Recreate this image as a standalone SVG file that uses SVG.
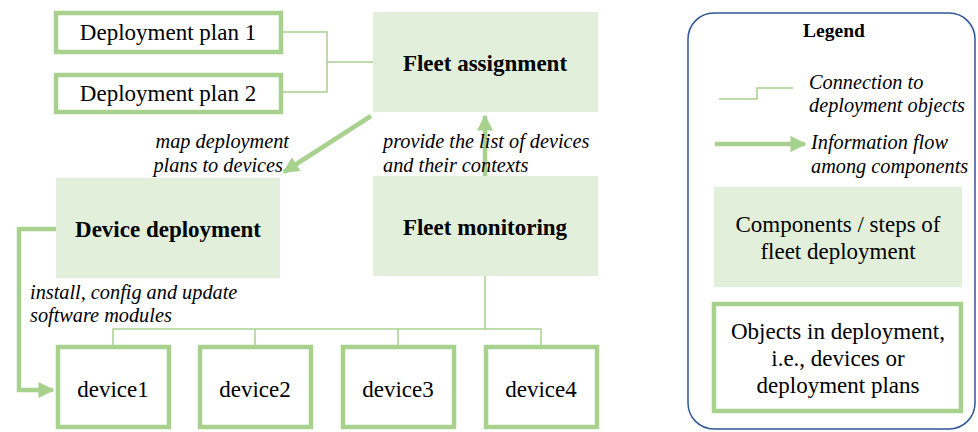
<svg xmlns="http://www.w3.org/2000/svg" width="978" height="432" viewBox="0 0 978 432">
  <defs>
    <marker id="head" viewBox="0 0 10 10" refX="9" refY="5" markerWidth="3.6" markerHeight="3.6" orient="auto" markerUnits="strokeWidth">
      <path d="M0,0 L10,5 L0,10 Z" fill="#A9D18E"/>
    </marker>
    <style>
      .obj { fill: #FFFFFF; stroke: #A9D18E; stroke-width: 4.5; }
      .comp { fill: #E2EFDA; stroke: none; }
      .link { fill: none; stroke: #A9D18E; stroke-width: 1.5; }
      .flow { fill: none; stroke: #A9D18E; stroke-width: 4.5; marker-end: url(#head); }
      .t { font-family: "Liberation Serif", "Times New Roman", serif; font-size: 23px; fill: #000; }
      .b { font-weight: bold; }
      .i { font-family: "Liberation Serif", "Times New Roman", serif; font-size: 20.3px; font-style: italic; fill: #000; }
      .mid { text-anchor: middle; }
    </style>
  </defs>

  <rect width="978" height="432" fill="#FFFFFF"/>

  <!-- connectors -->
  <g id="connectors">
    <path class="link" d="M283,32 H327 V92 H283"/>
    <path class="link" d="M327,62 H373"/>
    <path class="link" d="M485,276 V329"/>
    <path class="link" d="M113,345 V329 H541 V345"/>
    <path class="link" d="M255,329 V345"/>
    <path class="link" d="M398,329 V345"/>
    <path class="flow" d="M371,116 L284,172"/>
    <path class="flow" d="M485,176 V116"/>
    <path class="flow" d="M56,229 H19 V390 H53"/>
  </g>

  <!-- edge labels -->
  <g id="labels">
    <text class="i" x="289" y="148" text-anchor="end">map deployment</text>
    <text class="i" x="283" y="172" text-anchor="end">plans to devices</text>
    <text class="i" x="383" y="148">provide the list of devices</text>
    <text class="i" x="383" y="172">and their contexts</text>
    <text class="i" x="30" y="299">install, config and update</text>
    <text class="i" x="30" y="322">software modules</text>
  </g>

  <g id="plan1">
    <rect class="obj" x="56" y="13" width="225" height="39"/>
    <text class="t mid" x="168" y="40">Deployment plan 1</text>
  </g>
  <g id="plan2">
    <rect class="obj" x="56" y="75" width="225" height="37"/>
    <text class="t mid" x="168" y="101">Deployment plan 2</text>
  </g>

  <g id="fleet-assignment">
    <rect class="comp" x="373" y="12" width="225" height="100"/>
    <text class="t b mid" x="485" y="71">Fleet assignment</text>
  </g>
  <g id="device-deployment">
    <rect class="comp" x="56" y="178" width="224" height="100"/>
    <text class="t b mid" x="168" y="237">Device deployment</text>
  </g>
  <g id="fleet-monitoring">
    <rect class="comp" x="373" y="176" width="225" height="100"/>
    <text class="t b mid" x="485" y="235">Fleet monitoring</text>
  </g>

  <g id="device1">
    <rect class="obj" x="58" y="347" width="111" height="80"/>
    <text class="t mid" x="113" y="397">device1</text>
  </g>
  <g id="device2">
    <rect class="obj" x="200" y="347" width="111" height="80"/>
    <text class="t mid" x="255" y="397">device2</text>
  </g>
  <g id="device3">
    <rect class="obj" x="343" y="347" width="111" height="80"/>
    <text class="t mid" x="398" y="397">device3</text>
  </g>
  <g id="device4">
    <rect class="obj" x="486" y="347" width="111" height="80"/>
    <text class="t mid" x="541" y="397">device4</text>
  </g>

  <!-- legend -->
  <g id="legend">
    <rect x="688" y="13" width="287" height="416" rx="26" ry="26" fill="#FFFFFF" stroke="#2F5597" stroke-width="1.5"/>
    <text class="t b mid" x="834" y="37" style="font-size:19.5px">Legend</text>
    <path class="link" d="M719,99 H757 V88 H793"/>
    <text class="i" x="809" y="89">Connection to</text>
    <text class="i" x="809" y="112">deployment objects</text>
    <path class="flow" d="M715,144 H805"/>
    <text class="i" x="811" y="149">Information flow</text>
    <text class="i" x="811" y="173">among components</text>
    <rect class="comp" x="714" y="187" width="248" height="100"/>
    <text class="t mid" x="838" y="232">Components / steps of</text>
    <text class="t mid" x="838" y="259">fleet deployment</text>
    <rect class="obj" x="714" y="304" width="247" height="107"/>
    <text class="t mid" x="838" y="339">Objects in deployment,</text>
    <text class="t mid" x="838" y="366">i.e., devices or</text>
    <text class="t mid" x="838" y="393">deployment plans</text>
  </g>
</svg>
